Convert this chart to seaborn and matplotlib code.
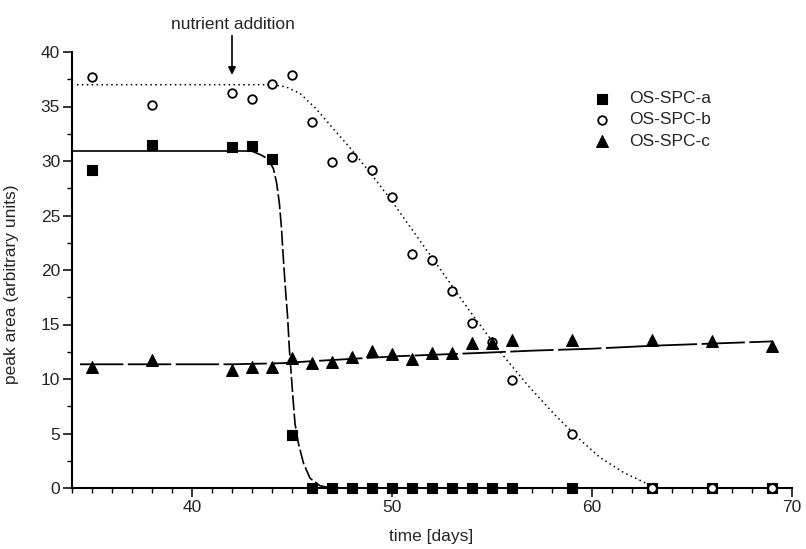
import matplotlib
matplotlib.use("Agg")
import matplotlib.pyplot as plt
from matplotlib.ticker import MultipleLocator
import seaborn as sns

# ---- data ----
days = [35, 38, 42, 43, 44, 45, 46, 47, 48, 49, 50, 51, 52, 53, 54, 55, 56, 59, 63, 66, 69]
spc_a = [29.2, 31.5, 31.3, 31.4, 30.2, 4.9, 0, 0, 0, 0, 0, 0, 0, 0, 0, 0, 0, 0, 0, 0, 0]
spc_b = [37.7, 35.1, 36.2, 35.7, 37.1, 37.9, 33.6, 29.9, 30.4, 29.2, 26.7, 21.5, 20.9,
         18.1, 15.1, 13.4, 9.9, 5.0, 0, 0, 0]
spc_c = [11.1, 11.7, 10.8, 11.1, 11.1, 11.9, 11.5, 11.6, 12.0, 12.6, 12.3, 11.8, 12.4,
         12.4, 13.3, 13.3, 13.6, 13.6, 13.6, 13.5, 13.0]

# fitted curves
fit_a_plateau_x = [34.05, 43.0]
fit_a_plateau_y = [30.9, 30.9]
fit_a_drop_x = [43.0, 43.4, 43.8, 44.07, 44.23, 44.37, 44.48, 44.53, 44.65, 44.78, 44.87,
                45.03, 45.15, 45.32, 45.57, 45.9, 46.4, 47.0]
fit_a_drop_y = [30.9, 30.6, 30.2, 29.3, 28.0, 26.1, 23.7, 22.1, 18.8, 15.7, 12.7,
                8.7, 5.9, 4.1, 2.3, 0.9, 0.2, 0.0]
fit_b_x = [34.25, 44.0, 44.7, 45.4, 46.2, 47.0, 48.0, 49.0, 50.0, 51.2, 52.4, 53.9, 55.4,
           56.8, 58.15, 59.3, 60.4, 61.6, 62.75, 63.0]
fit_b_y = [37.0, 37.0, 36.8, 36.2, 34.8, 33.1, 31.0, 28.7, 26.3, 23.2, 20.1, 16.2, 12.5,
           9.4, 6.7, 4.6, 2.8, 1.4, 0.4, 0.0]
fit_c_x = [34.4, 42.0, 44.5, 45.7, 48.0, 50.4, 54.5, 57.0, 60.0, 63.0, 66.0, 69.0]
fit_c_y = [11.35, 11.35, 11.45, 11.6, 11.85, 12.1, 12.4, 12.6, 12.78, 13.05, 13.25, 13.45]

labels = ["OS-SPC-a", "OS-SPC-b", "OS-SPC-c"]
x_ticks = [40, 50, 60, 70]
y_ticks = [0, 5, 10, 15, 20, 25, 30, 35, 40]

# ---- style ----
sns.set_style("ticks")
plt.rcParams["font.family"] = ["Liberation Sans", "DejaVu Sans"]
FS = 12.5

fig = plt.figure(figsize=(8.06, 5.49), dpi=100)
ax = fig.add_axes([72 / 806, 1 - 488 / 549, 720 / 806, 436 / 549])

# fitted curves
sns.lineplot(x=fit_a_plateau_x, y=fit_a_plateau_y, estimator=None, sort=False,
             color="black", lw=1.2, ax=ax, zorder=2)
sns.lineplot(x=fit_a_drop_x, y=fit_a_drop_y, estimator=None, sort=False,
             color="black", lw=1.2, linestyle=(0, (9, 2)), ax=ax, zorder=2)
sns.lineplot(x=fit_b_x, y=fit_b_y, estimator=None, sort=False,
             color="black", lw=1.1, linestyle=(0, (1, 2.2)), ax=ax, zorder=2)
sns.lineplot(x=fit_c_x, y=fit_c_y, estimator=None, sort=False,
             color="black", lw=1.3, linestyle=(0, (24, 2.5)), ax=ax, zorder=2)

# data points
sns.scatterplot(x=days, y=spc_a, marker="s", s=56, color="black", edgecolor="black",
                linewidth=0.8, label=labels[0], ax=ax, zorder=3, clip_on=False)
sns.scatterplot(x=days, y=spc_b, marker="o", s=38, color="white", edgecolor="black",
                linewidth=1.3, label=labels[1], ax=ax, zorder=4, clip_on=False)
sns.scatterplot(x=days, y=spc_c, marker="^", s=72, color="black", edgecolor="black",
                linewidth=0.8, label=labels[2], ax=ax, zorder=5, clip_on=False)

# axes
ax.set_xlim(34, 70)
ax.set_ylim(0, 40)
ax.set_xticks(x_ticks)
ax.set_yticks(y_ticks)
ax.xaxis.set_minor_locator(MultipleLocator(1))
ax.yaxis.set_minor_locator(MultipleLocator(2.5))
ax.tick_params(which="major", length=6.5, width=1.1, labelsize=FS, pad=2, color="black")
ax.tick_params(which="minor", length=3.5, width=1.0, color="black")
for s in ["left", "bottom"]:
    ax.spines[s].set_linewidth(1.5)
    ax.spines[s].set_color("black")
sns.despine(ax=ax)

ax.set_xlabel("time [days]", fontsize=FS)
ax.set_ylabel("peak area (arbitrary units)", fontsize=FS)
ax.xaxis.set_label_coords(0.499, -0.095)
ax.yaxis.set_label_coords(-0.074, 0.468)

# annotation
ax.annotate("", xy=(42, 37.9), xytext=(42, 41.5),
            arrowprops=dict(arrowstyle="-|>", color="black", lw=1.2, mutation_scale=11,
                            shrinkA=0, shrinkB=0),
            annotation_clip=False)
ax.text(42.05, 42.5, "nutrient addition", ha="center", va="center", fontsize=FS,
        clip_on=False)

# legend
leg = ax.legend(loc="upper left", bbox_to_anchor=(593 / 806, 1 - 91 / 549),
                bbox_transform=fig.transFigure, frameon=False, fontsize=FS,
                borderaxespad=0, borderpad=0, handlelength=1.0, handletextpad=1.1,
                labelspacing=0.35)

fig.savefig("out.png", dpi=100)
